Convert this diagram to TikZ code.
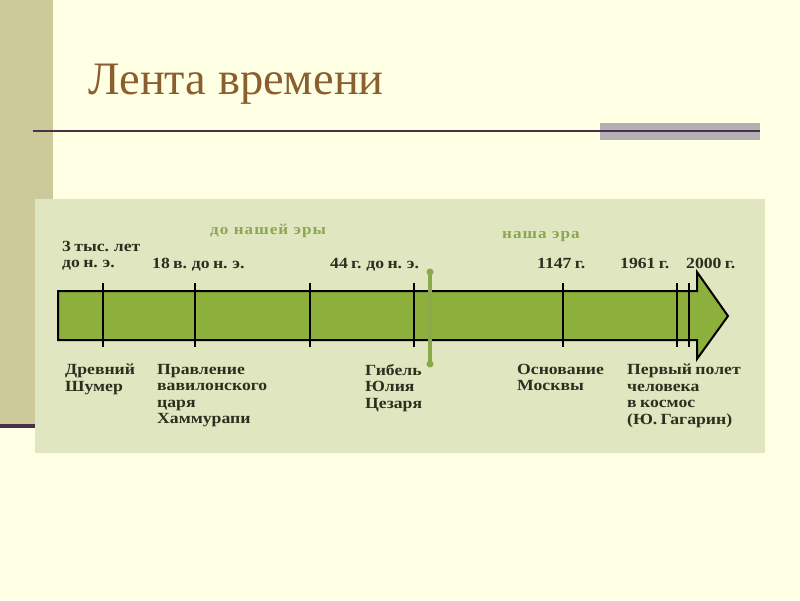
\documentclass[tikz,border=0pt]{standalone}
\usepackage{fontspec}
\setmainfont{Liberation Serif}
\newfontfamily\lblfont[FakeStretch=1.14,WordSpace=0.75]{Liberation Serif}
\newfontfamily\erafont[FakeStretch=1.14,LetterSpace=7]{Liberation Serif}
\definecolor{bgcream}{HTML}{FFFFE3}
\definecolor{stripc}{HTML}{CCCA9A}
\definecolor{panelc}{HTML}{DFE6C0}
\definecolor{arrowc}{HTML}{8DAF3C}
\definecolor{titlec}{HTML}{8B5E30}
\definecolor{rulec}{HTML}{4A3048}
\definecolor{grayc}{HTML}{B2B0B2}
\definecolor{darktxt}{HTML}{2E2E1E}
\definecolor{eratxt}{HTML}{8CA653}
\definecolor{markc}{HTML}{8AA84C}
\tikzset{
  lbl/.style={inner sep=0pt, align=left, text=darktxt, font=\lblfont\bfseries\fontsize{15.5}{16.5}\selectfont},
  eralbl/.style={inner sep=0pt, text=eratxt, font=\erafont\bfseries\fontsize{15}{16.5}\selectfont},
  tickline/.style={line width=2.6pt, black},
}
\begin{document}
\begin{tikzpicture}[x=1pt,y=-1pt]
\useasboundingbox (0,0) rectangle (800,600);
\fill[bgcream] (0,0) rectangle (800,600);
% left strip
\fill[stripc] (0,0) rectangle (53,425);
\fill[rulec] (0,424) rectangle (35,428);
% title
\node[anchor=base west, inner sep=0pt, text=titlec, font=\fontsize{46.5}{50}\selectfont] (title) at (88,94) {Лента времени};
% rule
\fill[grayc] (600,123) rectangle (760,140);
\draw[rulec, line width=2pt] (33,130.5) -- (760,130.5);
% panel
\fill[panelc] (35,199) rectangle (765,453);
% arrow
\draw[fill=arrowc, line width=2pt, line join=miter] (58,291) -- (697,291) -- (697,272) -- (728,316) -- (697,359) -- (697,340) -- (58,340) -- cycle;
% ticks
\foreach \x/\n in {103/t1,195/t2,310/t3,414/t4,563/t5,677/t6,689/t7}{
  \coordinate (\n a) at (\x,283);
  \coordinate (\n b) at (\x,347);
  \draw[tickline] (\n a) -- (\n b);
}
% marker
\coordinate (ma) at (430,272);
\coordinate (mb) at (430,364);
\draw[markc, line width=3.5pt] (ma) -- (mb);
\fill[markc] (ma) circle (3.5);
\fill[markc] (mb) circle (3.5);
% era labels
\node[eralbl, anchor=base west] (era1) at (210,234) {до нашей эры};
\node[eralbl, anchor=base west] (era2) at (502,238) {наша эра};
% top labels
\node[lbl, anchor=north west] (l1) at (62,241) {3 тыс. лет\\до н. э.};
\node[lbl, anchor=base west] (l2) at (152,268) {18 в. до н. э.};
\node[lbl, anchor=base west] (l3) at (330,268) {44 г. до н. э.};
\node[lbl, anchor=base west] (l4) at (537,268) {1147 г.};
\node[lbl, anchor=base west] (l5) at (620,268) {1961 г.};
\node[lbl, anchor=base west] (l6) at (686,268) {2000 г.};
% bottom labels
\node[lbl, anchor=north west] (b1) at (65,364) {Древний\\Шумер};
\node[lbl, anchor=north west] (b2) at (157,364) {Правление\\вавилонского\\царя\\Хаммурапи};
\node[lbl, anchor=north west] (b3) at (365,364) {Гибель\\Юлия\\Цезаря};
\node[lbl, anchor=north west] (b4) at (517,364) {Основание\\Москвы};
\node[lbl, anchor=north west] (b5) at (627,364) {Первый полет\\человека\\в космос\\(Ю. Гагарин)};
\end{tikzpicture}
\end{document}
